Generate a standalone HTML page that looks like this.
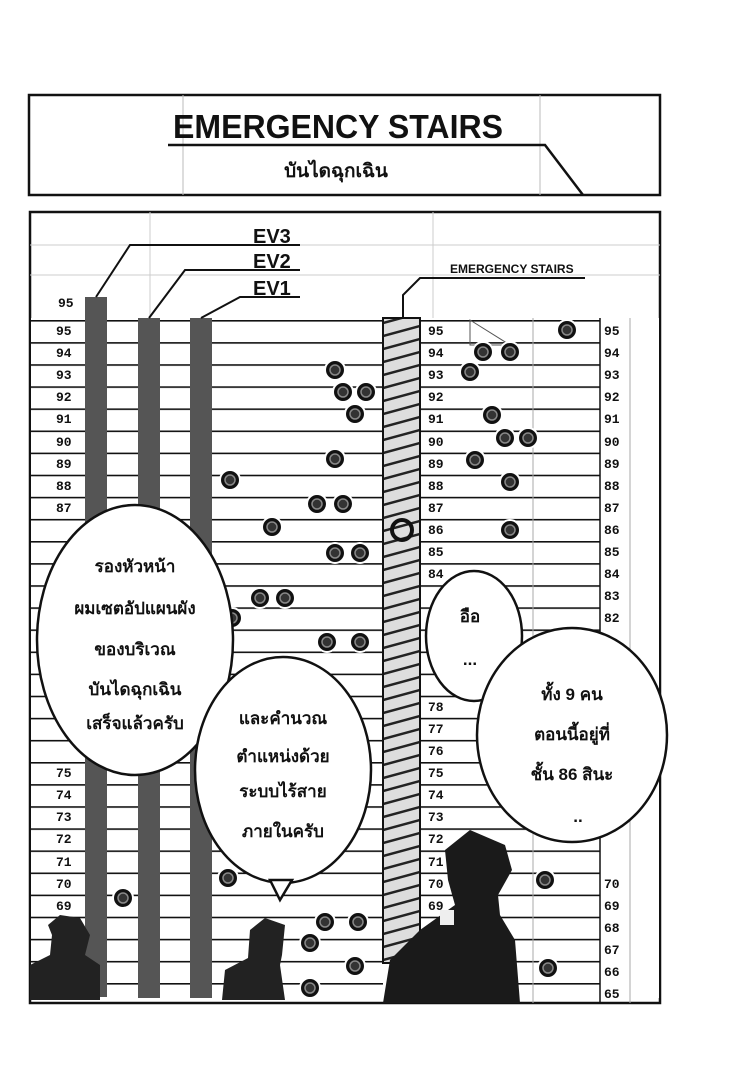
<!DOCTYPE html>
<html><head><meta charset="utf-8">
<style>
html,body{margin:0;padding:0;background:#fff;}
body{width:735px;height:1088px;overflow:hidden;position:relative;font-family:"Liberation Sans",sans-serif;}
svg{position:absolute;left:0;top:0;}
</style></head>
<body>
<svg width="735" height="1088" viewBox="0 0 735 1088" xmlns="http://www.w3.org/2000/svg">
<defs>
<pattern id="rows" x="0" y="320" width="10" height="22.1" patternUnits="userSpaceOnUse">
<rect width="10" height="22.1" fill="#fff"/><rect y="0" width="10" height="1.6" fill="#111"/>
</pattern>
<pattern id="hatch" x="383" y="0" width="37" height="13" patternUnits="userSpaceOnUse">
<rect width="37" height="13" fill="#ddd"/><path d="M0 11 L37 1" stroke="#222" stroke-width="2.5"/>
</pattern>
<g id="dot"><circle r="10" fill="#111" stroke="#fff" stroke-width="2"/><circle r="5" fill="#333" stroke="#888" stroke-width="1.5"/></g>
</defs>
<rect x="29" y="95" width="631" height="100" fill="#fff" stroke="#111" stroke-width="2.5"/>
<line x1="183" y1="95" x2="183" y2="195" stroke="#bbb" stroke-width="1"/>
<line x1="540" y1="95" x2="540" y2="195" stroke="#bbb" stroke-width="1"/>
<text x="338" y="138" text-anchor="middle" font-size="33" font-weight="bold" fill="#111" textLength="330" lengthAdjust="spacingAndGlyphs">EMERGENCY STAIRS</text>
<polyline points="168,145 545,145 583,195" fill="none" stroke="#111" stroke-width="2.5"/>
<text x="336" y="177" text-anchor="middle" font-size="19" font-weight="bold" fill="#111" font-family="Liberation Sans, Noto Sans CJK SC, sans-serif">บันไดฉุกเฉิน</text>

<rect x="30" y="212" width="630" height="791" fill="#fff" stroke="#111" stroke-width="2.5"/>
<line x1="30" y1="245" x2="660" y2="245" stroke="#ccc"/>
<line x1="30" y1="275" x2="660" y2="275" stroke="#ccc"/>
<line x1="150" y1="212" x2="150" y2="318" stroke="#ccc"/>
<line x1="433" y1="212" x2="433" y2="318" stroke="#ccc"/>
<rect x="31" y="318" width="352" height="680" fill="url(#rows)"/>
<rect x="420" y="318" width="180" height="680" fill="url(#rows)"/>
<rect x="600" y="318" width="59" height="680" fill="#fff"/>
<line x1="600" y1="318" x2="600" y2="1003" stroke="#111" stroke-width="1.5"/>
<line x1="630" y1="318" x2="630" y2="1003" stroke="#aaa"/>
<line x1="533" y1="318" x2="533" y2="1003" stroke="#aaa"/>
<rect x="85" y="297" width="22" height="700" fill="#555"/>
<rect x="138" y="318" width="22" height="680" fill="#555"/>
<rect x="190" y="318" width="22" height="680" fill="#555"/>
<polyline points="96,297 130,245 300,245" fill="none" stroke="#111" stroke-width="2"/>
<polyline points="149,318 185,270 300,270" fill="none" stroke="#111" stroke-width="2"/>
<polyline points="201,318 240,297 300,297" fill="none" stroke="#111" stroke-width="2"/>
<g font-size="20" font-weight="bold" fill="#111">
<text x="253" y="243">EV3</text><text x="253" y="268">EV2</text><text x="253" y="295">EV1</text>
</g>
<text x="450" y="273" font-size="12" font-weight="bold" fill="#111">EMERGENCY STAIRS</text>
<polyline points="403,318 403,295 420,278 585,278" fill="none" stroke="#111" stroke-width="2"/>
<rect x="383" y="318" width="37" height="645" fill="url(#hatch)" stroke="#111" stroke-width="2"/>
<circle cx="402" cy="530" r="10" fill="none" stroke="#111" stroke-width="4"/>

<g font-size="13" font-weight="bold" fill="#111" font-family="Liberation Mono, monospace">
<text x="58" y="307">95</text>
<text x="56" y="335">95</text><text x="56" y="357">94</text><text x="56" y="379">93</text><text x="56" y="401">92</text><text x="56" y="423">91</text><text x="56" y="446">90</text><text x="56" y="468">89</text><text x="56" y="490">88</text><text x="56" y="512">87</text>
<text x="56" y="777">75</text><text x="56" y="799">74</text><text x="56" y="821">73</text><text x="56" y="843">72</text><text x="56" y="866">71</text><text x="56" y="888">70</text><text x="56" y="910">69</text>
<text x="428" y="335">95</text><text x="428" y="357">94</text><text x="428" y="379">93</text><text x="428" y="401">92</text><text x="428" y="423">91</text><text x="428" y="446">90</text><text x="428" y="468">89</text><text x="428" y="490">88</text><text x="428" y="512">87</text><text x="428" y="534">86</text><text x="428" y="556">85</text><text x="428" y="578">84</text>
<text x="428" y="711">78</text><text x="428" y="733">77</text><text x="428" y="755">76</text><text x="428" y="777">75</text><text x="428" y="799">74</text><text x="428" y="821">73</text><text x="428" y="843">72</text><text x="428" y="866">71</text><text x="428" y="888">70</text><text x="428" y="910">69</text><text x="428" y="932">68</text>
<text x="604" y="335">95</text><text x="604" y="357">94</text><text x="604" y="379">93</text><text x="604" y="401">92</text><text x="604" y="423">91</text><text x="604" y="446">90</text><text x="604" y="468">89</text><text x="604" y="490">88</text><text x="604" y="512">87</text><text x="604" y="534">86</text><text x="604" y="556">85</text><text x="604" y="578">84</text><text x="604" y="600">83</text><text x="604" y="622">82</text>
<text x="604" y="888">70</text><text x="604" y="910">69</text><text x="604" y="932">68</text><text x="604" y="954">67</text><text x="604" y="976">66</text><text x="604" y="998">65</text>
</g>
<path d="M470 320 L510 345 L470 345 Z" fill="none" stroke="#555"/>

<g>
<use href="#dot" x="335" y="370"/><use href="#dot" x="343" y="392"/><use href="#dot" x="366" y="392"/><use href="#dot" x="355" y="414"/><use href="#dot" x="335" y="459"/><use href="#dot" x="230" y="480"/><use href="#dot" x="317" y="504"/><use href="#dot" x="343" y="504"/><use href="#dot" x="272" y="527"/><use href="#dot" x="335" y="553"/><use href="#dot" x="360" y="553"/><use href="#dot" x="260" y="598"/><use href="#dot" x="285" y="598"/><use href="#dot" x="232" y="618"/><use href="#dot" x="327" y="642"/><use href="#dot" x="360" y="642"/><use href="#dot" x="228" y="878"/><use href="#dot" x="123" y="898"/><use href="#dot" x="325" y="922"/><use href="#dot" x="358" y="922"/><use href="#dot" x="310" y="943"/><use href="#dot" x="355" y="966"/><use href="#dot" x="310" y="988"/>
<use href="#dot" x="567" y="330"/><use href="#dot" x="483" y="352"/><use href="#dot" x="510" y="352"/><use href="#dot" x="470" y="372"/><use href="#dot" x="492" y="415"/><use href="#dot" x="505" y="438"/><use href="#dot" x="528" y="438"/><use href="#dot" x="475" y="460"/><use href="#dot" x="510" y="482"/><use href="#dot" x="510" y="530"/><use href="#dot" x="545" y="880"/><use href="#dot" x="548" y="968"/>
</g>

<path d="M30 1000 L30 965 L50 955 L52 935 L48 925 L60 915 L80 918 L90 935 L85 955 L100 965 L100 1000 Z" fill="#222"/>
<path d="M222 1000 L225 970 L248 958 L250 930 L265 918 L285 925 L282 955 L280 965 L285 1000 Z" fill="#222"/>
<path d="M383 1003 L390 960 L420 930 L455 905 L448 880 L445 850 L470 830 L505 845 L512 870 L498 895 L500 915 L515 940 L520 1003 Z" fill="#1a1a1a"/>
<rect x="440" y="910" width="14" height="15" fill="#eee"/>

<g fill="#fff" stroke="#111" stroke-width="2.5">
<ellipse cx="135" cy="640" rx="98" ry="135"/>
<ellipse cx="283" cy="770" rx="88" ry="113"/>
<path d="M270 880 L280 900 L292 880 Z"/>
<ellipse cx="474" cy="636" rx="48" ry="65"/>
<ellipse cx="572" cy="735" rx="95" ry="107"/>
</g>
<g font-family="Liberation Sans, Noto Sans CJK SC, sans-serif" font-size="17" font-weight="bold" fill="#111" text-anchor="middle">
<text x="135" y="572">รองหัวหน้า</text>
<text x="135" y="614">ผมเซตอัปแผนผัง</text>
<text x="135" y="655">ของบริเวณ</text>
<text x="135" y="695">บันไดฉุกเฉิน</text>
<text x="135" y="729">เสร็จแล้วครับ</text>
<text x="283" y="724">และคำนวณ</text>
<text x="283" y="762">ตำแหน่งด้วย</text>
<text x="283" y="797">ระบบไร้สาย</text>
<text x="283" y="837">ภายในครับ</text>
<text x="470" y="622">อือ</text>
<text x="470" y="665">...</text>
<text x="572" y="700">ทั้ง 9 คน</text>
<text x="572" y="740">ตอนนี้อยู่ที่</text>
<text x="572" y="780">ชั้น 86 สินะ</text>
<text x="578" y="822">..</text>
</g>
</svg>
</body></html>
